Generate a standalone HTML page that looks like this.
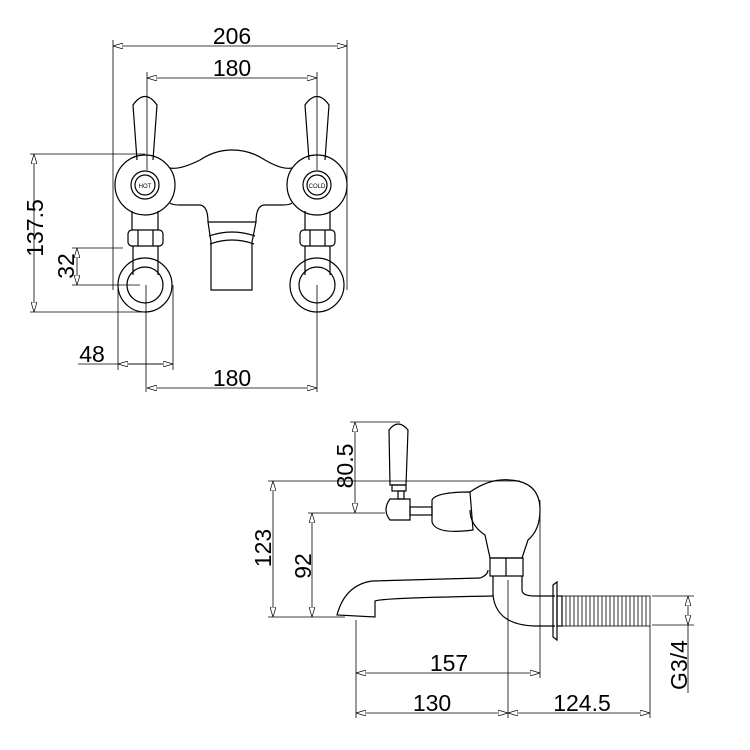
<!DOCTYPE html>
<html><head><style>html,body{margin:0;padding:0;background:#fff}svg{display:block}</style></head>
<body>
<svg width="750" height="750" viewBox="0 0 750 750" xmlns="http://www.w3.org/2000/svg" font-family="Liberation Sans, sans-serif" fill="none" stroke="#000" stroke-width="1">
<defs>
<marker id="a" viewBox="0 0 10 6" refX="10" refY="3" markerWidth="10" markerHeight="6" orient="auto-start-reverse" markerUnits="userSpaceOnUse"><path d="M0,0 L10,3 L0,6 Z" fill="#fff" stroke="#000" stroke-width="0.7"/></marker>
</defs>
<g stroke-width="0.8">
<line x1="113" y1="46" x2="347" y2="46" marker-start="url(#a)" marker-end="url(#a)"/>
<line x1="113" y1="40" x2="113" y2="290"/><line x1="347" y1="40" x2="347" y2="290"/>
<line x1="147" y1="78" x2="317" y2="78" marker-start="url(#a)" marker-end="url(#a)"/>
<line x1="147" y1="72" x2="147" y2="170"/><line x1="317" y1="72" x2="317" y2="170"/>
<line x1="34" y1="154" x2="34" y2="312" marker-start="url(#a)" marker-end="url(#a)"/>
<line x1="30" y1="154" x2="145" y2="154"/><line x1="30" y1="312" x2="145" y2="312"/>
<line x1="77" y1="248" x2="77" y2="285" marker-start="url(#a)" marker-end="url(#a)"/>
<line x1="72" y1="248" x2="123" y2="248"/><line x1="72" y1="285" x2="140" y2="285"/>
<line x1="78" y1="364" x2="173" y2="364"/>
<line x1="118" y1="364" x2="173" y2="364" marker-start="url(#a)" marker-end="url(#a)"/>
<line x1="118" y1="285" x2="118" y2="370"/><line x1="173" y1="285" x2="173" y2="370"/>
<line x1="147" y1="388" x2="317" y2="388" marker-start="url(#a)" marker-end="url(#a)"/>
<line x1="146" y1="285" x2="146" y2="392"/><line x1="317" y1="285" x2="317" y2="392"/>
</g>
<g font-size="23" fill="#000" stroke="none" text-anchor="middle">
<text x="232" y="44">206</text><text x="232" y="76">180</text>
<text x="232" y="386">180</text><text x="92" y="362">48</text>
<text transform="translate(43,228) rotate(-90)">137.5</text>
<text transform="translate(74,266) rotate(-90)">32</text>
<text transform="translate(353,466) rotate(-90)">80.5</text>
<text transform="translate(271,548) rotate(-90)">123</text>
<text transform="translate(311,566) rotate(-90)">92</text>
<text transform="translate(687,665) rotate(-90)">G3/4</text>
<text x="449" y="671">157</text><text x="432" y="711">130</text><text x="582" y="711">124.5</text>
</g>
<g stroke-width="1.2">
<path d="M137,160 L133,105 Q145,88 157,105 L153,160"/>
<path d="M309,160 L305,105 Q317,88 329,105 L325,160"/>
<circle cx="145" cy="185" r="30"/><circle cx="145" cy="185" r="14"/><circle cx="145" cy="185" r="10"/>
<circle cx="317" cy="185" r="30"/><circle cx="317" cy="185" r="14"/><circle cx="317" cy="185" r="10"/>
<path d="M170,168 Q180,170 200,160 Q215,150 232,150 Q250,150 265,160 Q282,170 292,168"/>
<path d="M132,211 L132,230 M158,211 L158,230 M305,211 L305,230 M330,211 L330,230"/>
<path d="M170,203 Q172,205 180,205 L200,205 Q208,206 208,222 M256,222 Q256,206 264,205 L282,205 Q290,205 292,203"/>
<path d="M208,222 L256,222 L252,242 L252,290 L211,290 L211,242 Z"/>
<path d="M209,236 Q232,228 255,236 M210,244 Q232,236 254,244"/>
<rect x="128" y="230" width="35" height="16" rx="4"/><rect x="300" y="230" width="35" height="16" rx="4"/>
<line x1="138" y1="230" x2="138" y2="246"/><line x1="153" y1="230" x2="153" y2="246"/>
<line x1="310" y1="230" x2="310" y2="246"/><line x1="325" y1="230" x2="325" y2="246"/>
<circle cx="145" cy="285" r="27"/><circle cx="145" cy="285" r="18"/>
<circle cx="317" cy="285" r="27"/><circle cx="317" cy="285" r="18"/>
<path d="M133,246 L133,275 M158,246 L158,275 M305,246 L305,275 M330,246 L330,275"/>
</g>
<g font-size="6" fill="#000" stroke="none" text-anchor="middle"><text x="145" y="188">HOT</text><text x="317" y="188">COLD</text></g>
<g stroke-width="0.8">
<line x1="355" y1="422" x2="355" y2="513" marker-start="url(#a)" marker-end="url(#a)"/>
<line x1="350" y1="422" x2="400" y2="422"/>
<line x1="268" y1="481" x2="520" y2="481"/>
<line x1="308" y1="513" x2="385" y2="513"/>
<line x1="273" y1="481" x2="273" y2="617" marker-start="url(#a)" marker-end="url(#a)"/>
<line x1="312" y1="513" x2="312" y2="617" marker-start="url(#a)" marker-end="url(#a)"/>
<line x1="268" y1="617" x2="345" y2="617"/>
<line x1="356" y1="620" x2="356" y2="718"/>
<line x1="356" y1="673" x2="540" y2="673" marker-start="url(#a)" marker-end="url(#a)"/>
<line x1="540" y1="500" x2="540" y2="678"/>
<line x1="356" y1="713" x2="508" y2="713" marker-start="url(#a)" marker-end="url(#a)"/>
<line x1="508" y1="713" x2="650" y2="713" marker-start="url(#a)" marker-end="url(#a)"/>
<line x1="508" y1="580" x2="508" y2="718"/><line x1="650" y1="626" x2="650" y2="718"/>
<line x1="688" y1="596" x2="688" y2="625" marker-start="url(#a)" marker-end="url(#a)"/>
<line x1="652" y1="596" x2="694" y2="596"/><line x1="652" y1="625" x2="694" y2="625"/>
<line x1="688" y1="625" x2="688" y2="693"/>
</g>
<g stroke-width="1.2">
<path d="M390,485 L389,430 Q398,418 408,430 L406,485 Z"/>
<rect x="392" y="485" width="14" height="6"/><rect x="398" y="491" width="6" height="8"/>
<path d="M390,499 L410,499 L410,520 L390,520 Q382,510 390,499 Z"/>
<rect x="410" y="507" width="22" height="8"/>
<path d="M432,500 Q436,492 470,492 L473,530 Q436,535 432,522 Z"/>
<path d="M470,492 Q490,478 510,480 Q540,482 540,510 Q540,530 528,540 L522,558 L490,558 L485,535 Q470,525 470,510"/>
<rect x="490" y="558" width="33" height="18"/><line x1="506" y1="558" x2="506" y2="576"/>
<path d="M488,570 Q488,575 480,578 L372,581 Q345,585 337,615 L375,617 L375,601 Q380,598 493,596"/>
<path d="M493,576 L493,595 Q496,625 535,626 L555,626 M522,576 L522,590 Q522,596 535,596 L555,596"/>
<path d="M553,585 L557,582 L557,640 L553,637 Z"/><rect x="557" y="596" width="5" height="30"/>
</g>
<g stroke-width="0.8">
<rect x="562" y="596" width="88" height="30"/>
<path d="M566,596V626M570,596V626M574,596V626M578,596V626M582,596V626M586,596V626M590,596V626M594,596V626M598,596V626M602,596V626M606,596V626M610,596V626M614,596V626M618,596V626M622,596V626M626,596V626M630,596V626M634,596V626M638,596V626M642,596V626M646,596V626"/>
</g>
</svg>
</body></html>
